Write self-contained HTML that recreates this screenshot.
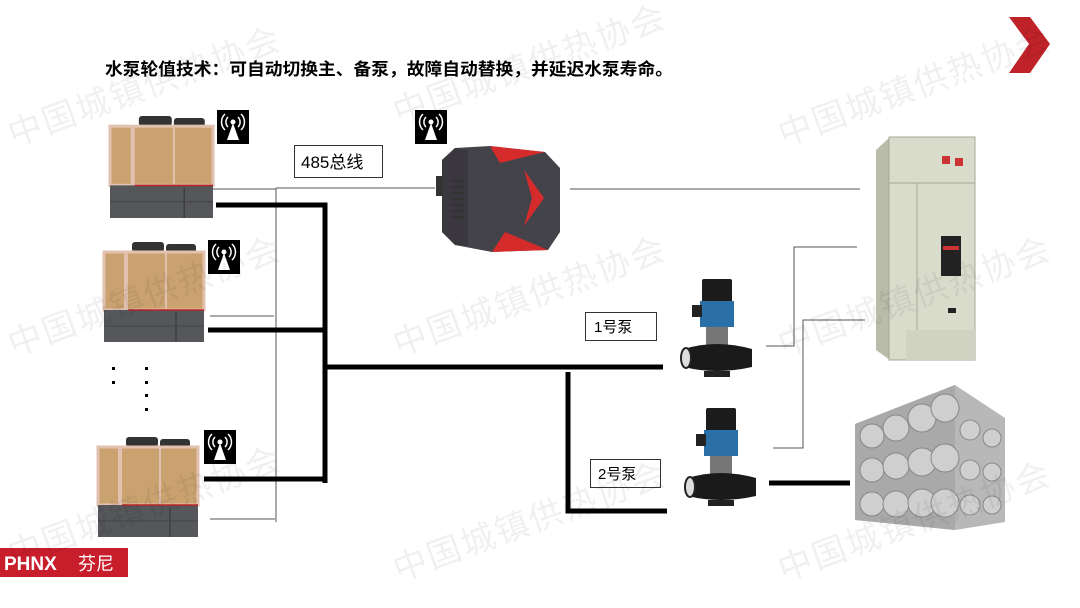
<!DOCTYPE html>
<html><head><meta charset="utf-8"><style>
html,body{margin:0;padding:0;background:#fff;}
body{width:1080px;height:608px;position:relative;overflow:hidden;font-family:"Liberation Sans","Noto Sans CJK SC",sans-serif;}
.wm{position:absolute;font-size:34px;color:rgba(0,0,0,0.06);transform:rotate(-20deg);transform-origin:left top;white-space:nowrap;letter-spacing:2px;}
</style></head><body>
<svg width="1080" height="608" viewBox="0 0 1080 608" xmlns="http://www.w3.org/2000/svg" style="position:absolute;left:0;top:0">
<defs>
<g id="hp">
  <rect x="28" y="0" width="32" height="10" rx="3" fill="#333"/>
  <rect x="62" y="2" width="30" height="9" rx="3" fill="#333"/>
  <rect x="0" y="10" width="100" height="58" fill="#c9a26f"/>
  <rect x="0" y="10" width="100" height="58" fill="none" stroke="#e2c1b0" stroke-width="3"/>
  <line x1="22" y1="10" x2="22" y2="100" stroke="#e2c1b0" stroke-width="4"/>
  <line x1="62" y1="10" x2="62" y2="68" stroke="#e2c1b0" stroke-width="2"/>
  <rect x="0" y="68" width="100" height="32" fill="#55575b"/>
  <line x1="24" y1="68" x2="100" y2="68" stroke="#b22" stroke-width="1.5"/>
  <line x1="72" y1="70" x2="72" y2="100" stroke="#333" stroke-width="1"/>
  <line x1="0" y1="84" x2="100" y2="84" stroke="#444" stroke-width="1"/>
</g>
<g id="ant">
  <rect width="32" height="34" fill="#000"/>
  <polygon points="16,13 10,30 22,30" fill="#fff"/>
  <circle cx="16" cy="12" r="2.5" fill="#fff"/>
  <path d="M11,7 a7,7 0 0,0 0,10 M21,7 a7,7 0 0,1 0,10 M8,4 a11,11 0 0,0 0,16 M24,4 a11,11 0 0,1 0,16" stroke="#fff" stroke-width="1.5" fill="none"/>
</g>
<g id="pump">
  <rect x="22" y="0" width="30" height="24" rx="2" fill="#1c1c1c"/>
  <rect x="20" y="22" width="34" height="26" fill="#2a6fa5"/>
  <rect x="12" y="26" width="10" height="12" fill="#222"/>
  <rect x="26" y="48" width="22" height="22" fill="#777"/>
  <path d="M4,70 Q36,60 72,70 L72,88 Q36,96 4,88 Z" fill="#1a1a1a"/>
  <ellipse cx="6" cy="79" rx="5" ry="10" fill="#ddd" stroke="#222" stroke-width="2"/>
  <rect x="24" y="92" width="26" height="6" fill="#222"/>
</g>
</defs>

<use href="#hp" transform="translate(110,116) scale(1.03,1.02)"/>
<use href="#hp" transform="translate(104,242)"/>
<use href="#hp" transform="translate(98,437)"/>
<use href="#ant" x="217" y="110"/>
<use href="#ant" x="208" y="240"/>
<use href="#ant" x="204" y="430"/>
<use href="#ant" x="415" y="110"/>

<g fill="#000">
<rect x="112" y="367" width="3" height="3"/><rect x="112" y="381" width="3" height="3"/>
<rect x="145" y="367" width="3" height="3"/><rect x="145" y="381" width="3" height="3"/>
<rect x="145" y="394" width="3" height="3"/><rect x="145" y="408" width="3" height="3"/>
</g>

<g stroke="#555" stroke-width="1" fill="none">
<polyline points="211,189 276,189"/>
<polyline points="276,188 276,522"/>
<polyline points="276,188 435,188"/>
<polyline points="210,316 274,316"/>
<polyline points="210,519 275,519"/>
<polyline points="570,189 860,189"/>
<polyline points="766,346 794,346 794,247 857,247"/>
<polyline points="773,448 803,448 803,320 865,320"/>
</g>

<g stroke="#000" stroke-width="5" fill="none">
<polyline points="216,205 325,205 325,483"/>
<line x1="208" y1="330" x2="325" y2="330"/>
<line x1="204" y1="479" x2="325" y2="479"/>
<line x1="327" y1="367" x2="663" y2="367"/>
<polyline points="568,372 568,511 667,511"/>
<line x1="769" y1="483" x2="850" y2="483"/>
</g>

<rect x="294.5" y="145.5" width="88" height="32" fill="#fff" stroke="#333"/>
<text x="301" y="168" font-size="17">485总线</text>

<g>
  <rect x="436" y="176" width="8" height="20" fill="#333"/>
  <polygon points="455,148 490,146 545,152 560,168 560,232 548,250 492,252 455,245 442,232 442,160" fill="#45434a"/>
  <polygon points="442,160 455,148 468,150 468,246 455,245 442,232" fill="#3a383e"/>
  <polygon points="490,146 545,152 500,163" fill="#d62b2b"/>
  <polygon points="492,252 548,250 505,232" fill="#d62b2b"/>
  <polygon points="524,170 544,198 524,226 532,198" fill="#d62b2b"/>
  <g fill="#333"><rect x="452" y="180" width="12" height="2"/><rect x="452" y="186" width="12" height="2"/><rect x="452" y="192" width="12" height="2"/><rect x="452" y="198" width="12" height="2"/><rect x="452" y="204" width="12" height="2"/><rect x="452" y="210" width="12" height="2"/><rect x="452" y="216" width="12" height="2"/></g>
</g>

<use href="#pump" transform="translate(680,279)"/>
<use href="#pump" transform="translate(684,408)"/>

<rect x="585.5" y="312.5" width="71" height="28" fill="#fff" stroke="#333"/>
<text x="594" y="332" font-size="15">1号泵</text>
<rect x="590.5" y="459.5" width="70" height="28" fill="#fff" stroke="#333"/>
<text x="598" y="479" font-size="15">2号泵</text>

<polygon points="876,150 890,137 890,360 876,350" fill="#b9bca8"/>
<rect x="889" y="137" width="86" height="223" fill="#d9dccb" stroke="#a4a796" stroke-width="1"/>
<line x1="889" y1="183" x2="975" y2="183" stroke="#a4a796"/>
<line x1="917" y1="183" x2="917" y2="330" stroke="#a4a796"/>
<rect x="941" y="236" width="20" height="40" fill="#222"/>
<rect x="943" y="246" width="16" height="4" fill="#c33"/>
<rect x="942" y="156" width="8" height="8" fill="#c33"/>
<rect x="955" y="158" width="8" height="8" fill="#c33"/>
<rect x="948" y="308" width="8" height="5" fill="#222"/>
<rect x="906" y="330" width="69" height="30" fill="#d0d3c2"/>

<polygon points="855,424 955,385 1005,418 1005,522 955,530 855,520" fill="#b8b8b8"/>
<polygon points="855,424 955,385 955,530 855,520" fill="#a9a9a9"/>
<g fill="#cfcfcf" stroke="#888" stroke-width="1">
<circle cx="872" cy="436" r="12"/><circle cx="896" cy="428" r="13"/><circle cx="922" cy="418" r="14"/><circle cx="945" cy="408" r="14"/>
<circle cx="872" cy="470" r="12"/><circle cx="896" cy="466" r="13"/><circle cx="922" cy="462" r="14"/><circle cx="945" cy="458" r="14"/>
<circle cx="872" cy="504" r="12"/><circle cx="896" cy="504" r="13"/><circle cx="922" cy="503" r="14"/><circle cx="945" cy="503" r="14"/>
<circle cx="970" cy="430" r="10"/><circle cx="992" cy="438" r="9"/>
<circle cx="970" cy="470" r="10"/><circle cx="992" cy="472" r="9"/>
<circle cx="970" cy="505" r="10"/><circle cx="992" cy="505" r="9"/>
</g>

<polygon points="1009,17 1030,17 1050,44 1030,73 1009,73 1029,44" fill="#c0222a"/>

<rect x="0" y="548" width="128" height="29" fill="#c81e2b"/>
<text x="4" y="570" font-size="19" fill="#fff" font-weight="bold">PHNX</text>
<text x="78" y="570" font-size="18" fill="#fff" font-family="Noto Sans CJK SC,sans-serif">芬尼</text>

<text x="105" y="75" font-size="17" font-weight="bold" fill="#000" textLength="568" lengthAdjust="spacingAndGlyphs">水泵轮值技术：可自动切换主、备泵，故障自动替换，并延迟水泵寿命。</text>
</svg>

<div class="wm" style="left:0px;top:110px">中国城镇供热协会</div>
<div class="wm" style="left:385px;top:88px">中国城镇供热协会</div>
<div class="wm" style="left:770px;top:110px">中国城镇供热协会</div>
<div class="wm" style="left:0px;top:320px">中国城镇供热协会</div>
<div class="wm" style="left:385px;top:320px">中国城镇供热协会</div>
<div class="wm" style="left:770px;top:320px">中国城镇供热协会</div>
<div class="wm" style="left:0px;top:530px">中国城镇供热协会</div>
<div class="wm" style="left:385px;top:545px">中国城镇供热协会</div>
<div class="wm" style="left:770px;top:545px">中国城镇供热协会</div>
</body></html>
